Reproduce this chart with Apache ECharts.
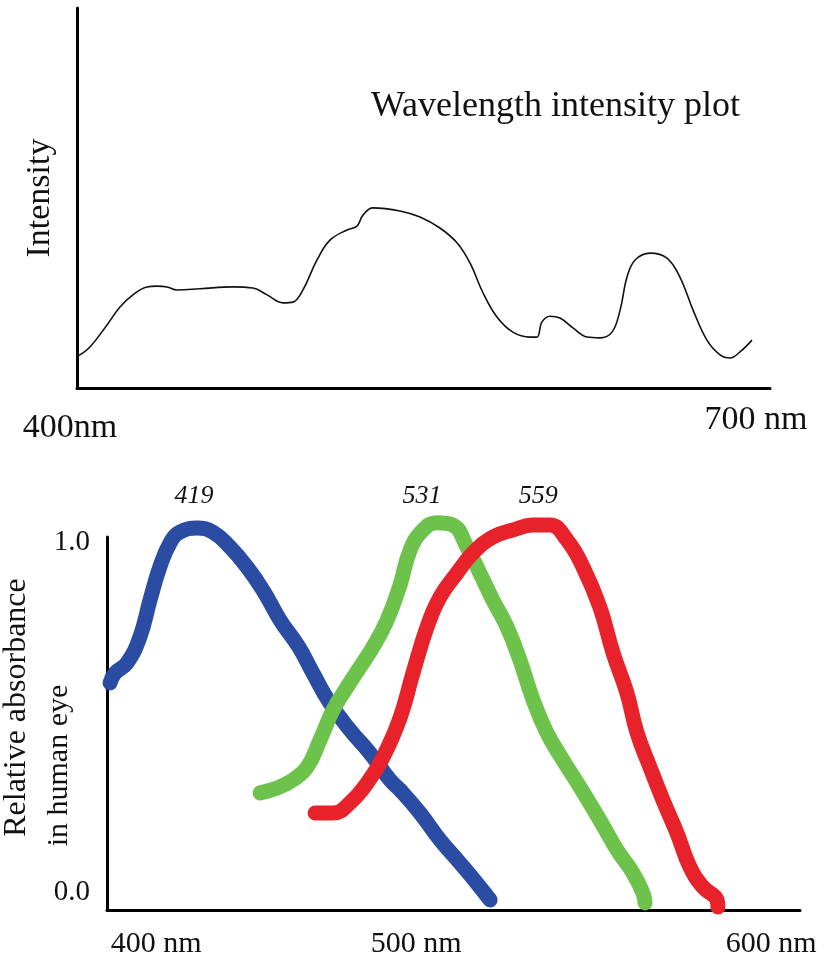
<!DOCTYPE html>
<html><head><meta charset="utf-8">
<script src="https://cdn.jsdelivr.net/npm/echarts@6/dist/echarts.min.js"></script>
<style>html,body{margin:0;padding:0;background:#fff}#c{width:829px;height:959px}</style>
</head><body><div id="c"></div>
<script>
const FONT = '"Liberation Serif","Times New Roman",serif';

// ---- Top plot: wavelength intensity ----
const topTitle = 'Wavelength intensity plot';
const topYName = 'Intensity';
const topTickValues = [400, 700];
const topTickLabels = ['400nm', '700 nm'];
const topWavelength = [400.4, 405.6, 413.0, 418.6, 424.2, 430.3, 434.6, 439.0, 443.3, 453.2, 467.5, 476.2, 482.3, 489.2, 493.5, 497.8, 503.9, 509.5, 516.9, 521.2, 523.8, 528.1, 539.8, 548.5, 557.1, 564.5, 570.1, 575.8, 581.8, 588.7, 596.1, 599.1, 601.3, 604.8, 609.1, 614.7, 620.8, 626.4, 631.6, 635.1, 638.1, 641.6, 648.1, 655.4, 661.0, 666.7, 672.7, 678.4, 682.7, 687.0, 692.2];
const topIntensity = [8.4, 10.8, 16.6, 21.3, 24.5, 26.6, 26.8, 26.6, 25.8, 26.1, 26.6, 26.3, 24.5, 22.4, 22.6, 25.8, 33.7, 38.9, 41.6, 42.6, 45.5, 47.4, 46.6, 45.0, 42.1, 38.2, 32.9, 25.0, 18.7, 14.7, 13.4, 13.4, 17.4, 18.9, 18.4, 15.8, 13.4, 13.2, 14.7, 20.5, 29.2, 33.7, 35.5, 34.2, 29.2, 20.5, 12.6, 8.7, 7.9, 9.5, 12.6];

// ---- Bottom plot: cone absorbance ----
const bottomYName = ['Relative absorbance', 'in human eye'];
const bottomTickValues = [400, 500, 600];
const bottomTickLabels = ['400 nm', '500 nm', '600 nm'];
const absTickValues = [0, 1];
const absTickLabels = ['0.0', '1.0'];
const conePeakLabels = ['419', '531', '559'];

const blueNm = [385.0, 386.6, 390.5, 394.7, 398.0, 401.2, 404.5, 407.7, 413.3, 418.5, 424.0, 429.5, 434.7, 440.3, 446.4, 451.0, 456.5, 463.0, 469.5, 476.0, 479.3, 485.8, 492.3, 498.8, 504.3, 508.6];
const blueAbs = [0.609, 0.635, 0.662, 0.732, 0.831, 0.920, 0.984, 1.013, 1.024, 1.013, 0.973, 0.920, 0.858, 0.777, 0.705, 0.635, 0.555, 0.483, 0.421, 0.349, 0.322, 0.260, 0.188, 0.126, 0.072, 0.027];

const greenNm = [433.8, 439.3, 444.5, 449.1, 453.3, 457.5, 462.1, 466.3, 470.5, 475.1, 479.3, 482.6, 486.8, 491.3, 496.5, 501.1, 505.3, 509.5, 514.1, 518.3, 522.6, 527.1, 532.3, 537.8, 544.3, 549.9, 555.1, 558.3, 559.0];
const greenAbs = [0.314, 0.327, 0.349, 0.383, 0.456, 0.536, 0.598, 0.651, 0.705, 0.777, 0.871, 0.965, 1.019, 1.038, 1.032, 0.973, 0.903, 0.831, 0.759, 0.670, 0.563, 0.475, 0.402, 0.330, 0.241, 0.161, 0.099, 0.046, 0.019];

const redNm = [451.7, 457.5, 463.0, 468.6, 473.8, 479.3, 483.5, 488.1, 492.3, 497.8, 503.0, 509.5, 516.1, 522.6, 528.1, 533.6, 538.8, 544.3, 548.6, 553.1, 556.4, 560.6, 564.8, 569.4, 573.6, 577.8, 582.4, 582.7];
const redAbs = [0.260, 0.260, 0.287, 0.340, 0.410, 0.515, 0.635, 0.759, 0.839, 0.903, 0.957, 1.000, 1.019, 1.032, 1.032, 0.992, 0.920, 0.812, 0.689, 0.582, 0.475, 0.383, 0.295, 0.206, 0.115, 0.062, 0.027, 0.008];

const chart = echarts.init(document.getElementById('c'), null, {renderer: 'canvas'});

function coneSeries(nm, abs, color, peakLabel, labelOffset, labelDistance) {
  let peak = 0;
  abs.forEach((v, i) => { if (v > abs[peak]) peak = i; });
  const data = nm.map((x, i) => {
    const item = {value: [x, abs[i]]};
    if (i === peak) {
      item.label = {show: true, formatter: peakLabel, position: 'top',
        distance: labelDistance, offset: labelOffset,
        fontFamily: FONT, fontStyle: 'italic', fontSize: 26, color: '#111'};
    }
    return item;
  });
  return {
    type: 'line', xAxisIndex: 1, yAxisIndex: 1, data: data,
    smooth: 0.45, clip: false, symbol: 'circle', symbolSize: 1, showSymbol: true,
    itemStyle: {color: color}, emphasis: {disabled: true},
    lineStyle: {color: color, width: 15, cap: 'round', join: 'round'},
    z: 3
  };
}

const axisLine = {lineStyle: {color: '#000', width: 3}};

chart.setOption({
  animation: false,
  backgroundColor: '#fff',
  title: {
    text: topTitle, left: 366, top: 84,
    textStyle: {fontFamily: FONT, fontSize: 36, fontWeight: 'normal', color: '#111'}
  },
  grid: [
    {left: 77, right: 59, top: 8, bottom: 571, outerBoundsMode: 'none', containLabel: false},
    {left: 107, right: 29, top: 537, bottom: 49, outerBoundsMode: 'none', containLabel: false}
  ],
  xAxis: [
    {
      type: 'value', gridIndex: 0, min: 400, max: 700,
      axisLine: axisLine, axisTick: {show: false}, splitLine: {show: false},
      axisLabel: {
        customValues: topTickValues, margin: 15,
        formatter: v => '{t' + topTickValues.indexOf(v) + '|' + topTickLabels[topTickValues.indexOf(v)] + '}',
        rich: {
          t0: {fontFamily: FONT, fontSize: 34, color: '#111', padding: [8, 14, 0, 0]},
          t1: {fontFamily: FONT, fontSize: 34, color: '#111', padding: [0, 28, 0, 0]}
        }
      }
    },
    {
      type: 'value', gridIndex: 1, min: 384, max: 609.4,
      axisLine: axisLine, axisTick: {show: false}, splitLine: {show: false},
      axisLabel: {
        customValues: bottomTickValues, margin: 19,
        formatter: v => '{b' + bottomTickValues.indexOf(v) + '|' + bottomTickLabels[bottomTickValues.indexOf(v)] + '}',
        rich: {
          b0: {fontFamily: FONT, fontSize: 30, color: '#111'},
          b1: {fontFamily: FONT, fontSize: 30, color: '#111', padding: [0, 95, 0, 0]},
          b2: {fontFamily: FONT, fontSize: 30, color: '#111'}
        }
      }
    }
  ],
  yAxis: [
    {
      type: 'value', gridIndex: 0, min: 0, max: 100,
      name: topYName, nameLocation: 'middle', nameGap: 20, nameMoveOverlap: false,
      nameTextStyle: {fontFamily: FONT, fontSize: 34, color: '#111'},
      axisLine: {show: true, onZero: false, lineStyle: {color: '#000', width: 3}},
      axisTick: {show: false}, splitLine: {show: false}, axisLabel: {show: false}
    },
    {
      type: 'value', gridIndex: 1, min: 0, max: 1,
      name: '{n0|' + bottomYName[0] + '}\n{n1|' + bottomYName[1] + '}',
      nameLocation: 'middle', nameGap: 27, nameMoveOverlap: false,
      nameTextStyle: {
        fontFamily: FONT, fontSize: 30, color: '#111', lineHeight: 42,
        rich: {
          n0: {fontFamily: FONT, fontSize: 32, color: '#111', lineHeight: 42, padding: [0, 0, 0, 32]},
          n1: {fontFamily: FONT, fontSize: 30, color: '#111', lineHeight: 42, padding: [0, 84, 0, 0]}
        }
      },
      axisLine: {show: true, onZero: false, lineStyle: {color: '#000', width: 3}},
      axisTick: {show: false}, splitLine: {show: false},
      axisLabel: {
        customValues: absTickValues, margin: 17,
        formatter: v => '{y' + absTickValues.indexOf(v) + '|' + absTickLabels[absTickValues.indexOf(v)] + '}',
        rich: {
          y0: {fontFamily: FONT, fontSize: 29, color: '#111', padding: [0, 0, 36, 0]},
          y1: {fontFamily: FONT, fontSize: 29, color: '#111', padding: [10, 0, 0, 0]}
        }
      }
    }
  ],
  series: [
    {
      type: 'line', xAxisIndex: 0, yAxisIndex: 0,
      data: topWavelength.map((x, i) => [x, topIntensity[i]]),
      smooth: 0.4, symbol: 'none', clip: false,
      lineStyle: {color: '#111', width: 1.6}
    },
    coneSeries(blueNm, blueAbs, '#2b4ca3', conePeakLabels[0], [-3, 0], 18),
    coneSeries(greenNm, greenAbs, '#6cc24a', conePeakLabels[1], [-15, 0], 13),
    coneSeries(redNm, redAbs, '#e8222b', conePeakLabels[2], [5, 0], 15)
  ]
});
</script>
</body></html>
